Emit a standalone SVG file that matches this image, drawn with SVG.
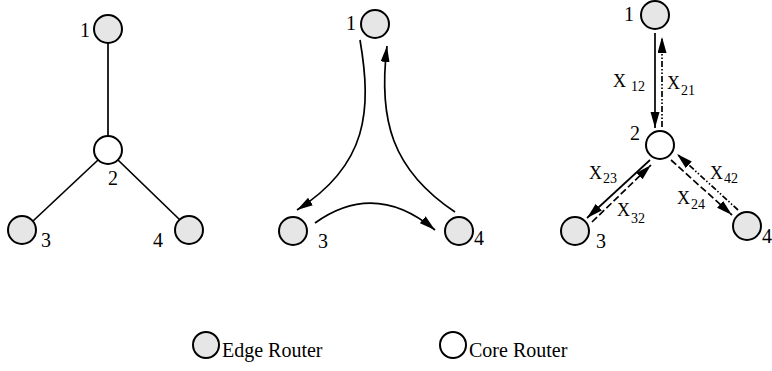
<svg xmlns="http://www.w3.org/2000/svg" width="772" height="371" viewBox="0 0 772 371">
<defs>
<marker id="ah" markerUnits="userSpaceOnUse" markerWidth="17" markerHeight="10" refX="16" refY="4.5" orient="auto">
<path d="M0,0 L16,4.5 L0,9 z" fill="#000"/>
</marker>
<style>
.edge{fill:#e6e6e6;stroke:#000;stroke-width:2}
.core{fill:#fff;stroke:#000;stroke-width:2}
text{font-family:"Liberation Serif","Times New Roman",serif;fill:#000}
.lbl{font-size:20px}
.xl{font-size:18px}
.sub{font-size:14px}
.ln{fill:none;stroke:#000;stroke-width:1.7}
.dash{stroke-dasharray:7 3}
.dd{stroke-dasharray:6 2 1.5 2 1.5 2}
.leg{font-size:20px}
</style>
</defs>
<rect width="772" height="371" fill="#fff"/>

<g id="connectors">
<line class="ln" x1="108" y1="43" x2="108" y2="136"/>
<line class="ln" x1="98" y1="160" x2="33" y2="221"/>
<line class="ln" x1="118" y1="160" x2="180" y2="220"/>
<path class="ln" d="M360,40 C372,110 368,165 297,210" marker-end="url(#ah)"/>
<path class="ln" d="M455,212 C392,170 378,120 387,46" marker-end="url(#ah)"/>
<path class="ln" d="M315,223 Q375,180 435,230" marker-end="url(#ah)"/>
<line class="ln" x1="655" y1="33" x2="655" y2="128" marker-end="url(#ah)"/>
<line class="ln dd" x1="662" y1="127" x2="662" y2="37" marker-end="url(#ah)"/>
<line class="ln" x1="650" y1="160" x2="587" y2="218" marker-end="url(#ah)"/>
<line class="ln dash" x1="592" y1="222" x2="651" y2="165" marker-end="url(#ah)"/>
<line class="ln dash" x1="671" y1="160" x2="732" y2="215" marker-end="url(#ah)"/>
<line class="ln dd" x1="738" y1="210" x2="677" y2="154" marker-end="url(#ah)"/>
</g>

<g id="left-n1"><circle class="edge" cx="108" cy="29" r="14"/><text class="lbl" x="80" y="37">1</text></g>
<g id="left-n2"><circle class="core" cx="108" cy="150" r="14"/><text class="lbl" x="108" y="185">2</text></g>
<g id="left-n3"><circle class="edge" cx="22" cy="230" r="14"/><text class="lbl" x="41" y="247">3</text></g>
<g id="left-n4"><circle class="edge" cx="189" cy="230" r="14"/><text class="lbl" x="153" y="247">4</text></g>

<g id="mid-n1"><circle class="edge" cx="375" cy="24" r="14"/><text class="lbl" x="346" y="30">1</text></g>
<g id="mid-n3"><circle class="edge" cx="293" cy="231" r="14"/><text class="lbl" x="318" y="248">3</text></g>
<g id="mid-n4"><circle class="edge" cx="459" cy="231" r="14"/><text class="lbl" x="474" y="245">4</text></g>

<g id="right-n1"><circle class="edge" cx="655" cy="15" r="14"/><text class="lbl" x="624" y="21">1</text></g>
<g id="right-n2"><circle class="core" cx="660" cy="145" r="14"/><text class="lbl" x="630" y="140">2</text></g>
<g id="right-n3"><circle class="edge" cx="575" cy="231" r="14"/><text class="lbl" x="596" y="248">3</text></g>
<g id="right-n4"><circle class="edge" cx="747" cy="226" r="14"/><text class="lbl" x="762" y="243">4</text></g>

<g id="flow-labels">
<text class="xl" x="613" y="87">X<tspan class="sub" x="631" y="91">12</tspan></text>
<text class="xl" x="667" y="89">X<tspan class="sub" x="681" y="95">21</tspan></text>
<text class="xl" x="589" y="179">X<tspan class="sub" x="603" y="183">23</tspan></text>
<text class="xl" x="617" y="216">X<tspan class="sub" x="631" y="223">32</tspan></text>
<text class="xl" x="710" y="179">X<tspan class="sub" x="724" y="183">42</tspan></text>
<text class="xl" x="677" y="204">X<tspan class="sub" x="691" y="209">24</tspan></text>
</g>

<g id="legend-edge"><circle class="edge" cx="206" cy="345" r="13"/><text class="leg" x="222" y="357">Edge Router</text></g>
<g id="legend-core"><circle class="core" cx="453" cy="345" r="13"/><text class="leg" x="469" y="357">Core Router</text></g>
</svg>
